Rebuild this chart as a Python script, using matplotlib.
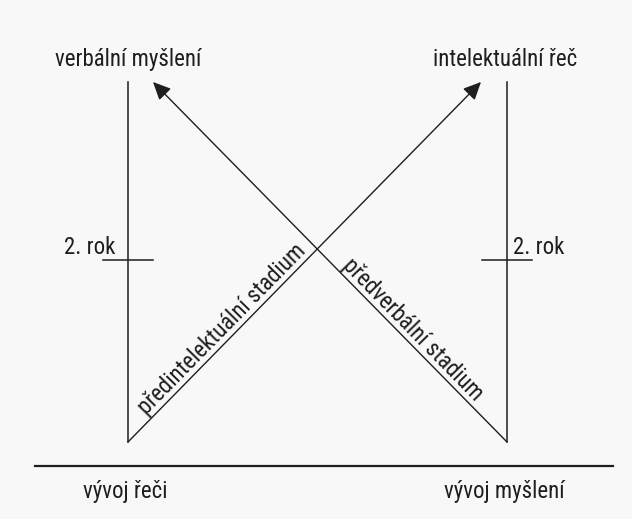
import numpy as np
import matplotlib.pyplot as plt

# diagram in pixel-like units (y grows downward)
axis_x = [128, 507]          # left: speech, right: thinking
axis_top = 82
axis_bottom = 442
year2_y = 260
tick_half = 25
base_y = 466
base_x = [35, 613]

top_labels = ['verbální myšlení', 'intelektuální řeč']
top_label_x = [128, 505]
year_label = '2. rok'
bottom_labels = ['vývoj řeči', 'vývoj myšlení']
bottom_label_x = [125, 504]

# arrows: start (bottom of one axis) -> tip (top near other axis)
arrow_start = [(128, 442), (507, 442)]
arrow_end = [(481, 82), (153, 82)]
stage_labels = ['předintelektuální stadium', 'předverbální stadium']
stage_pos = [0.29, 0.71]     # centre of label along the line

ink = '#1e1e1e'
plt.rcParams['font.family'] = ['Roboto Condensed', 'DejaVu Sans']
plt.rcParams['font.stretch'] = 'condensed'

fig = plt.figure(figsize=(6.32, 5.19), dpi=100, facecolor='#f8f8f8')
ax = fig.add_axes([0, 0, 1, 1])
ax.set_facecolor('#f8f8f8')
ax.set_xlim(0, 632)
ax.set_ylim(519, 0)
ax.axis('off')

fs = 16.5
fw = 'normal'

# vertical axes with 2nd year tick
for x in axis_x:
    ax.plot([x, x], [axis_top, axis_bottom], color=ink, lw=1.1)
    ax.plot([x - tick_half, x + tick_half], [year2_y, year2_y], color=ink, lw=1.1)

ax.text(axis_x[0] - 13, year2_y - 6, year_label, ha='right', va='baseline',
        fontsize=fs, fontweight=fw, color=ink)
ax.text(axis_x[1] + 6, year2_y - 6, year_label, ha='left', va='baseline',
        fontsize=fs, fontweight=fw, color=ink)

for x, t in zip(top_label_x, top_labels):
    ax.text(x, 66, t, ha='center', va='baseline', fontsize=fs, fontweight=fw, color=ink)

# base line
ax.plot(base_x, [base_y, base_y], color=ink, lw=1.6)
for x, t in zip(bottom_label_x, bottom_labels):
    ax.text(x, 498, t, ha='center', va='baseline', fontsize=fs, fontweight=fw, color=ink)

# diagonal arrows
for (x0, y0), (x1, y1) in zip(arrow_start, arrow_end):
    ax.annotate('', xy=(x1, y1), xytext=(x0, y0),
                arrowprops=dict(arrowstyle='-|>,head_length=0.6,head_width=0.28',
                                mutation_scale=18, color=ink, lw=1.0,
                                shrinkA=0, shrinkB=0))


def line_label(p0, p1, frac, text, side):
    # put text along the segment p0->p1 (left to right), offset to one side
    p0 = np.array(p0, float)
    p1 = np.array(p1, float)
    d = p1 - p0
    u = d / np.hypot(*d)
    p = p0 + d * frac
    normal = np.array([u[1], -u[0]]) * side   # screen "up" side of the line
    p = p + normal * 5
    ang = np.degrees(np.arctan2(-d[1], d[0]))
    ax.text(p[0], p[1], text, rotation=ang, rotation_mode='anchor',
            ha='center', va='baseline', fontsize=fs, fontweight=fw, color=ink)


line_label(arrow_start[0], arrow_end[0], stage_pos[0], stage_labels[0], 1)
line_label(arrow_end[1], arrow_start[1], stage_pos[1], stage_labels[1], 1)

fig.savefig('out.png', dpi=100, facecolor=fig.get_facecolor())
